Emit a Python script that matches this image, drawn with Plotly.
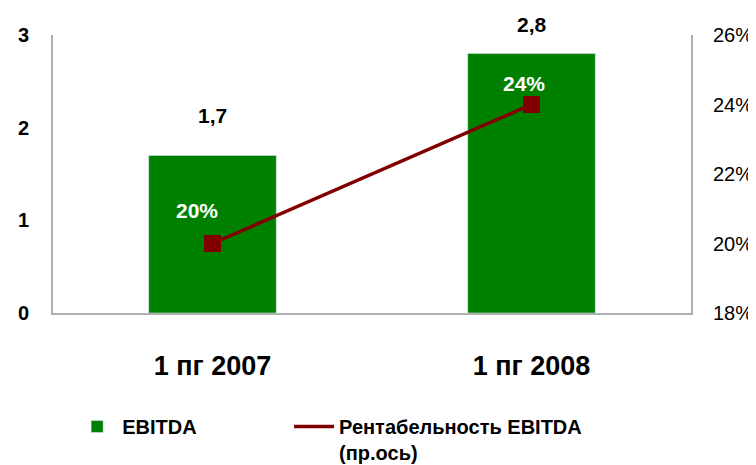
import plotly.graph_objects as go

categories = ["1 пг 2007", "1 пг 2008"]
ebitda = [1.7, 2.8]
margin_pct = [0.20, 0.24]
left_ticks = [0, 1, 2, 3]
right_ticks = [0.18, 0.20, 0.22, 0.24, 0.26]

GREEN = "#008000"
RED = "#800000"
FONT = "Liberation Sans, Arial, sans-serif"

fig = go.Figure()
fig.add_trace(go.Bar(x=categories, y=ebitda, name="EBITDA", marker_color=GREEN,
                     yaxis="y", hoverinfo="skip", legend="legend"))
fig.add_trace(go.Scatter(x=categories, y=margin_pct, yaxis="y2", mode="lines",
                         name="Рентабельность EBITDA<br>(пр.ось)", legend="legend2",
                         line=dict(color=RED, width=3.5), hoverinfo="skip"))
fig.add_trace(go.Scatter(x=categories, y=margin_pct, yaxis="y2", mode="markers",
                         showlegend=False,
                         marker=dict(symbol="square", size=17, color=RED), hoverinfo="skip"))

annotations = []
bar_shift = [40, 29]
for c, v, s in zip(categories, ebitda, bar_shift):
    annotations.append(dict(x=c, y=v, xref="x", yref="y", text=f"{v:.1f}".replace(".", ","),
                            showarrow=False, yshift=s, yanchor="middle",
                            font=dict(family=FONT, size=21, color="black", weight="bold")))
pct_shift = [(-16, 33), (-8, 21)]
for c, v, (dx, dy) in zip(categories, margin_pct, pct_shift):
    annotations.append(dict(x=c, y=v, xref="x", yref="y2", text=f"{round(v*100)}%",
                            showarrow=False, xshift=dx, yshift=dy, yanchor="middle",
                            font=dict(family=FONT, size=21, color="white", weight="bold")))

legend_font = dict(family=FONT, size=20, color="black", weight="bold")

# page body adds an 8px margin; figure sized so the plot area lands where the reference has it
fig.update_layout(
    width=748, height=457,
    margin=dict(l=45, r=65, t=27, b=152, autoexpand=False),
    paper_bgcolor="white", plot_bgcolor="white",
    bargap=0.6,
    showlegend=True,
    legend=dict(orientation="v", x=0.03, xanchor="left", y=-0.338, yanchor="top",
                valign="top", itemwidth=40, font=legend_font, bgcolor="rgba(0,0,0,0)"),
    legend2=dict(orientation="v", x=0.37, xanchor="left", y=-0.338, yanchor="top",
                 valign="top", itemwidth=40, font=legend_font, bgcolor="rgba(0,0,0,0)"),
    xaxis=dict(showline=True, linecolor="#b0b0b0", linewidth=2, showgrid=False,
               ticks="", ticklabelstandoff=28, automargin=False,
               tickfont=dict(family=FONT, size=27, color="black", weight="bold")),
    yaxis=dict(range=[0, 3], tickvals=left_ticks, showline=True, linecolor="#b0b0b0",
               linewidth=2, showgrid=False, zeroline=False, ticks="", ticklabelstandoff=18,
               automargin=False,
               tickfont=dict(family=FONT, size=20, color="black", weight="bold")),
    yaxis2=dict(range=[0.18, 0.26], tickvals=right_ticks, tickformat=".0%",
                overlaying="y", side="right", showline=True, linecolor="#b0b0b0",
                linewidth=2, showgrid=False, zeroline=False, ticks="", ticklabelstandoff=16,
                automargin=False,
                tickfont=dict(family=FONT, size=20, color="black")),
    annotations=annotations,
)

fig.write_html("out.html")
